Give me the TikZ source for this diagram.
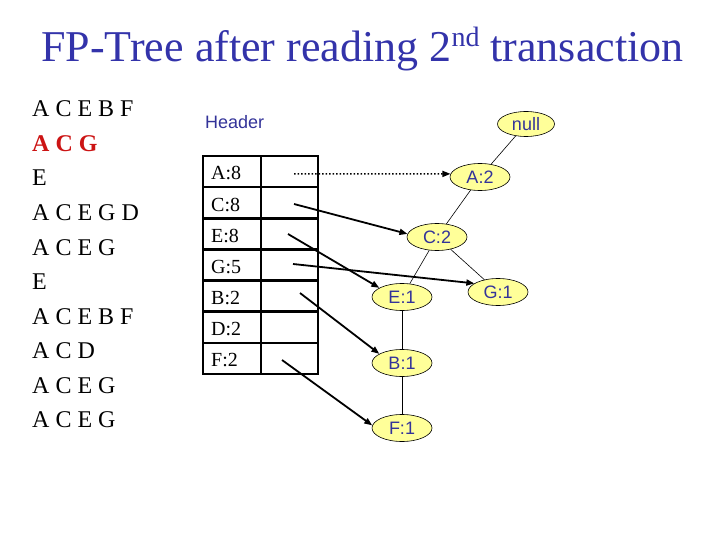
\documentclass[tikz,border=0pt]{standalone}
\usepackage{fontspec}
\setmainfont{Liberation Serif}
\setsansfont{Liberation Sans}
\usetikzlibrary{shapes.geometric,arrows.meta}
\definecolor{titleblue}{RGB}{51,51,170}
\definecolor{hdrblue}{RGB}{51,51,153}
\definecolor{nodefill}{RGB}{255,255,153}
\definecolor{redtx}{RGB}{204,20,20}
\begin{document}
\begin{tikzpicture}[x=1pt,y=-1pt,
  fpnode/.style={ellipse,draw=black,line width=0.6pt,fill=nodefill,minimum width=60pt,minimum height=27pt,inner sep=0pt,font=\sffamily\fontsize{18}{18}\selectfont,text=hdrblue},
  treeedge/.style={line width=0.6pt},
  ptr/.style={line width=1.8pt,-{Triangle[length=8pt,width=6pt]}},
  dotptr/.style={line width=1.5pt,dotted,-{Triangle[length=8pt,width=6pt]}},
  listtxt/.style={anchor=base west,inner sep=0pt,font=\fontsize{24}{24}\selectfont},
  celltxt/.style={anchor=base west,inner sep=0pt,font=\fontsize{20}{20}\selectfont},
  tbl/.style={line width=2.5pt}
]
\useasboundingbox (0,0) rectangle (720,540);

% title
\node[anchor=base,inner sep=0pt,text=titleblue,font=\fontsize{44}{44}\selectfont] (title) at (362.5,62)
  {FP-Tree after reading 2\raisebox{15pt}{\fontsize{28}{28}\selectfont nd} transaction};

% transaction list
\node[listtxt] (t1) at (32,117) {A C E B F};
\node[listtxt,text=redtx,font=\bfseries\fontsize{24}{24}\selectfont] (t2) at (32,151.5) {A C G};
\node[listtxt] (t3) at (32,186) {E};
\node[listtxt] (t4) at (32,220.5) {A C E G D};
\node[listtxt] (t5) at (32,255) {A C E G};
\node[listtxt] (t6) at (32,289.5) {E};
\node[listtxt] (t7) at (32,324) {A C E B F};
\node[listtxt] (t8) at (32,358.5) {A C D};
\node[listtxt] (t9) at (32,393) {A C E G};
\node[listtxt] (t10) at (32,427.5) {A C E G};

% header table
\node[anchor=base west,inner sep=0pt,text=hdrblue,font=\sffamily\fontsize{18}{18}\selectfont] (header) at (205,129) {Header};
\draw[tbl] (203,156) rectangle (318,374);
\draw[tbl] (261,156) -- (261,374);
\foreach \k in {1,...,6} {
  \draw[tbl] (203,{156+31.143*\k}) -- (318,{156+31.143*\k});
}
\node[celltxt] (hA) at (211,180) {A:8};
\node[celltxt] (hC) at (211,211.1) {C:8};
\node[celltxt] (hE) at (211,242.3) {E:8};
\node[celltxt] (hG) at (211,273.4) {G:5};
\node[celltxt] (hB) at (211,304.6) {B:2};
\node[celltxt] (hD) at (211,335.7) {D:2};
\node[celltxt] (hF) at (211,366.9) {F:2};

% tree nodes
\node[fpnode,minimum width=57pt,minimum height=25pt] (null) at (526,124) {null};
\node[fpnode] (A2) at (480,177) {A:2};
\node[fpnode] (C2) at (437,237) {C:2};
\node[fpnode] (E1) at (402,297) {E:1};
\node[fpnode] (G1) at (498,292) {G:1};
\node[fpnode] (B1) at (402,363) {B:1};
\node[fpnode] (F1) at (402,428) {F:1};

% tree edges
\draw[treeedge] (null) -- (A2);
\draw[treeedge] (A2) -- (C2);
\draw[treeedge] (C2) -- (E1);
\draw[treeedge] (C2) -- (G1);
\draw[treeedge] (E1) -- (B1);
\draw[treeedge] (B1) -- (F1);

% header pointers
\coordinate (cA) at (294,174);
\coordinate (cC) at (294,204);
\coordinate (cE) at (288,234);
\coordinate (cG) at (293,264);
\coordinate (cB) at (300,293);
\coordinate (cF) at (282,360);
\draw[dotptr] (cA) -- (A2.174);
\draw[ptr] (cC) -- (C2.174);
\draw[ptr] (cE) -- (E1.158);
\draw[ptr] (cG) -- (G1.160);
\draw[ptr] (cB) -- (B1.158);
\draw[ptr] (cF) -- (F1.175);
\end{tikzpicture}
\end{document}
